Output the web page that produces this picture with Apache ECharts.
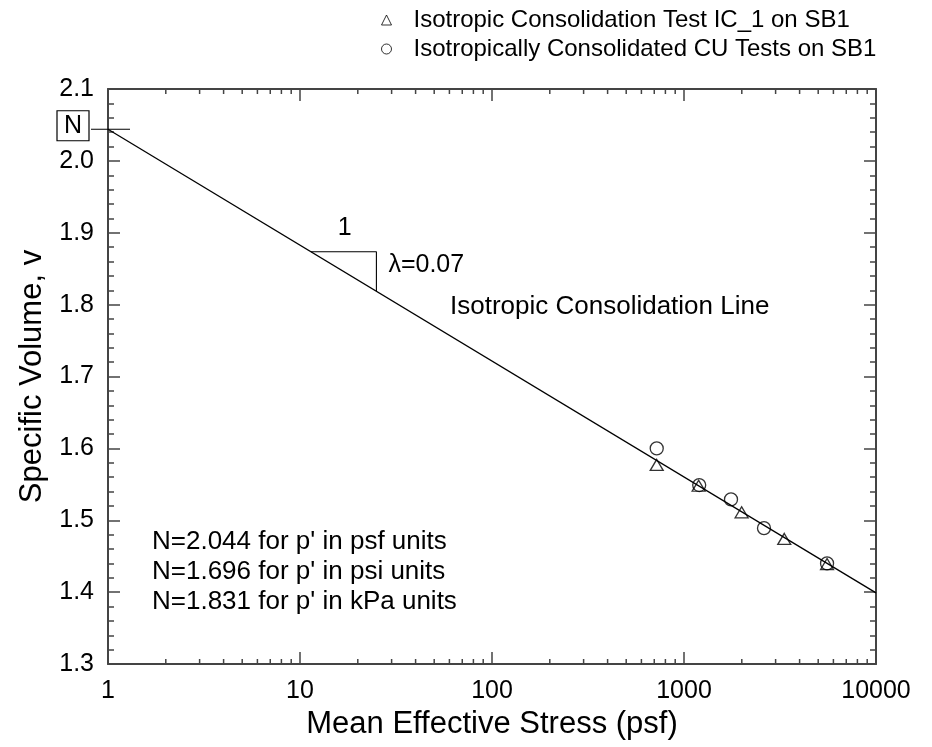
<!DOCTYPE html>
<html>
<head>
<meta charset="utf-8">
<title>Isotropic Consolidation Line</title>
<script src="https://cdn.jsdelivr.net/npm/echarts@6/dist/echarts.min.js"></script>
<style>
  html, body { margin: 0; padding: 0; background: #fff; }
  #chart { width: 932px; height: 747px; }
</style>
</head>
<body>
<div id="chart"></div>
<script>
// Isotropic consolidation test IC_1 (triangles)
const icTestP = [721, 1192, 1996, 3328, 5560];
const icTestV = [1.577, 1.548, 1.511, 1.474, 1.439];

// Isotropically consolidated CU tests (circles)
const cuTestP = [721, 1200, 1757, 2610, 5560];
const cuTestV = [1.600, 1.549, 1.529, 1.489, 1.440];

// Isotropic consolidation line end points: N = 2.044 at p' = 1 psf, lambda = 0.07
const nclP = [1, 10000];
const nclV = [2.044, 1.399];

// Slope triangle along the line
const slopeP = [11.4, 25, 25];
const slopeV = [1.8736, 1.8736, 1.8188];
const slopeRun = '1';
const slopeRise = 'λ=0.07';

// N intercept marker
const interceptP = [1];
const interceptV = [2.044];

// Axis ranges
const xRange = [1, 10000];
const yRange = [1.3, 2.1];
const yStep = 0.1;

const seriesNames = [
  'Isotropic Consolidation Test IC_1 on SB1',
  'Isotropically Consolidated CU Tests on SB1'
];

const notes = [
  "N=2.044 for p' in psf units",
  "N=1.696 for p' in psi units",
  "N=1.831 for p' in kPa units"
];

const FONT = "'Liberation Sans', Arial, Helvetica, sans-serif";
const AXIS_COLOR = '#444';

// minor ticks of the log axis at 2..9 x 10^k
const minorTicks = [];
for (let k = 0; k < 4; k++) {
  for (let m = 2; m <= 9; m++) minorTicks.push([m * Math.pow(10, k), yRange[0]]);
}

const zip = (a, b) => a.map((v, i) => [v, b[i]]);

const chart = echarts.init(document.getElementById('chart'), null, { renderer: 'canvas' });

const option = {
  backgroundColor: '#fff',
  animation: false,
  textStyle: { fontFamily: FONT, color: '#000' },
  grid: { left: 108, right: 56, top: 89, bottom: 83, containLabel: false },
  legend: {
    orient: 'vertical',
    left: 374,
    top: 3,
    itemGap: 5,
    itemWidth: 10,
    itemHeight: 10,
    selectedMode: false,
    textStyle: { fontFamily: FONT, fontSize: 24, color: '#000', padding: [0, 0, 0, 17] },
    data: [
      { name: seriesNames[0], icon: 'triangle',
        itemStyle: { color: 'none', borderColor: '#000', borderWidth: 1 } },
      { name: seriesNames[1], icon: 'circle',
        itemStyle: { color: 'none', borderColor: '#000', borderWidth: 1 } }
    ]
  },
  xAxis: [
    {
      type: 'log', logBase: 10, min: xRange[0], max: xRange[1],
      name: 'Mean Effective Stress (psf)',
      nameLocation: 'middle', nameGap: 42,
      nameTextStyle: { fontFamily: FONT, fontSize: 31, color: '#000' },
      axisLine: { show: true, lineStyle: { color: AXIS_COLOR, width: 2 } },
      axisTick: { show: true, inside: true, length: 12, lineStyle: { color: AXIS_COLOR, width: 1.5 } },
      axisLabel: { fontFamily: FONT, fontSize: 25, color: '#000', margin: 15,
        formatter: v => String(Math.round(v)) },
      splitLine: { show: false }
    },
    {
      type: 'log', logBase: 10, min: xRange[0], max: xRange[1], position: 'top',
      axisLine: { show: true, lineStyle: { color: AXIS_COLOR, width: 2 } },
      axisTick: { show: true, inside: true, length: 12, lineStyle: { color: AXIS_COLOR, width: 1.5 } },
      axisLabel: { show: false },
      splitLine: { show: false }
    }
  ],
  yAxis: [
    {
      type: 'value', min: yRange[0], max: yRange[1], interval: yStep,
      name: 'Specific Volume, v',
      nameLocation: 'middle', nameGap: 60,
      nameTextStyle: { fontFamily: FONT, fontSize: 31, color: '#000' },
      axisLine: { show: true, lineStyle: { color: AXIS_COLOR, width: 2 } },
      axisTick: { show: true, inside: true, length: 12, lineStyle: { color: AXIS_COLOR, width: 1.5 } },
      minorTick: { show: true, splitNumber: 5, length: 6, lineStyle: { color: AXIS_COLOR, width: 1.5 } },
      axisLabel: { fontFamily: FONT, fontSize: 25, color: '#000', margin: 14,
        formatter: v => v.toFixed(1) },
      splitLine: { show: false }
    },
    {
      type: 'value', min: yRange[0], max: yRange[1], interval: yStep, position: 'right',
      axisLine: { show: true, lineStyle: { color: AXIS_COLOR, width: 2 } },
      axisTick: { show: true, inside: true, length: 12, lineStyle: { color: AXIS_COLOR, width: 1.5 } },
      minorTick: { show: true, splitNumber: 5, length: 6, lineStyle: { color: AXIS_COLOR, width: 1.5 } },
      axisLabel: { show: false },
      splitLine: { show: false }
    }
  ],
  graphic: [
    { type: 'text', left: 450, top: 294,
      style: { text: 'Isotropic Consolidation Line', font: '26px ' + FONT, fill: '#000' } },
    { type: 'text', left: 152, top: 527,
      style: { text: notes.join('\n'), font: '26px ' + FONT, fill: '#000', lineHeight: 30 } }
  ],
  series: [
    {
      type: 'custom', name: 'minor ticks', silent: true, clip: false,
      data: minorTicks,
      renderItem: (params, api) => {
        const bottom = api.coord([api.value(0), yRange[0]]);
        const top = api.coord([api.value(0), yRange[1]]);
        const st = { stroke: AXIS_COLOR, lineWidth: 1.5 };
        return {
          type: 'group',
          children: [
            { type: 'line', shape: { x1: bottom[0], y1: bottom[1], x2: bottom[0], y2: bottom[1] - 5 }, style: st },
            { type: 'line', shape: { x1: top[0], y1: top[1], x2: top[0], y2: top[1] + 5 }, style: st }
          ]
        };
      }
    },
    {
      type: 'line', name: 'consolidation line', silent: true,
      data: zip(nclP, nclV), symbol: 'none',
      lineStyle: { color: '#000', width: 1.3 }
    },
    {
      type: 'line', name: 'slope', silent: true,
      data: zip(slopeP, slopeV), symbol: 'none',
      lineStyle: { color: '#000', width: 1.1 }
    },
    {
      // run and rise labels of the slope triangle
      type: 'custom', name: 'slope labels', silent: true, clip: false,
      data: [[slopeP[0], slopeV[0], slopeP[1], slopeV[2]]],
      renderItem: (params, api) => {
        const a = api.coord([api.value(0), api.value(1)]);
        const b = api.coord([api.value(2), api.value(3)]);
        return {
          type: 'group',
          children: [
            { type: 'text', x: (a[0] + b[0]) / 2 + 1, y: a[1] - 24,
              style: { text: slopeRun, font: '25px ' + FONT, fill: '#000', align: 'center', verticalAlign: 'middle' } },
            { type: 'text', x: b[0] + 12, y: (a[1] + b[1]) / 2 - 6,
              style: { text: slopeRise, font: '25px ' + FONT, fill: '#000', align: 'left', verticalAlign: 'middle' } }
          ]
        };
      }
    },
    {
      type: 'custom', name: 'intercept', silent: true, clip: false,
      data: zip(interceptP, interceptV),
      renderItem: (params, api) => {
        const p = api.coord([api.value(0), api.value(1)]);
        return {
          type: 'group',
          children: [
            { type: 'line', shape: { x1: p[0] - 17, y1: p[1], x2: p[0] + 22, y2: p[1] },
              style: { stroke: '#000', lineWidth: 1.2 } },
            { type: 'rect', shape: { x: p[0] - 51, y: p[1] - 18.5, width: 32, height: 30 },
              style: { fill: 'none', stroke: '#000', lineWidth: 1.2 } },
            { type: 'text', x: p[0] - 35, y: p[1] - 3.5,
              style: { text: 'N', font: '25px ' + FONT, fill: '#000', align: 'center', verticalAlign: 'middle' } }
          ]
        };
      }
    },
    {
      type: 'scatter', name: seriesNames[0],
      data: zip(icTestP, icTestV),
      symbol: 'triangle', symbolSize: [13, 11],
      itemStyle: { color: 'none', borderColor: '#000', borderWidth: 1.3 }
    },
    {
      type: 'scatter', name: seriesNames[1],
      data: zip(cuTestP, cuTestV),
      symbol: 'circle', symbolSize: 13,
      itemStyle: { color: 'none', borderColor: '#000', borderWidth: 1.3 }
    }
  ]
};

chart.setOption(option);
</script>
</body>
</html>
